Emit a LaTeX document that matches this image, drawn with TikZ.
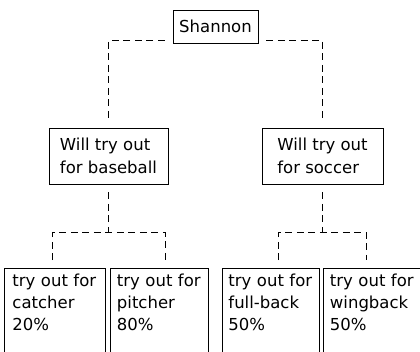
\documentclass[tikz,border=0pt]{standalone}
\usepackage{fontspec}
\setmainfont{DejaVu Sans}
\usetikzlibrary{positioning}
\tikzset{
  box/.style={draw, line width=0.9pt, inner sep=0pt, align=left,
              font=\fontsize{16.5}{23}\selectfont},
  leaf/.style={draw, line width=0.9pt, anchor=north west, align=left,
               text width=85pt, inner xsep=6pt, inner ysep=5.5pt, text depth=90pt,
               font=\fontsize{16.5}{22}\selectfont},
  link/.style={line width=0.9pt, dash pattern=on 7pt off 4.5pt,
               shorten <=8pt, shorten >=8pt},
}

\begin{document}
\begin{tikzpicture}[x=1pt, y=1pt]
  \useasboundingbox (0,0) rectangle (420,-351);
  \clip (0,0) rectangle (420,-351);

  %% top and middle level
  \node[box, minimum width=85pt, minimum height=33pt] (shannon) at (215.5,-26.5) {Shannon};
  \node[box, minimum width=119pt, minimum height=56pt] (baseball) at (108.5,-156) {Will try out\\for baseball};
  \node[box, minimum width=121pt, minimum height=56pt] (soccer) at (322.5,-156) {Will try out\\for soccer};

  %% leaves, cut off at the bottom edge
  \node[leaf, minimum width=101pt] (catcher) at (4,-268) {try out for\\catcher\\20\%};
  \node[leaf, minimum width=98pt] (pitcher) at (110,-268) {try out for\\pitcher\\80\%};
  \node[leaf, minimum width=97pt] (fullback) at (222,-268) {try out for\\full-back\\50\%};
  \node[leaf, minimum width=98pt] (wingback) at (323,-268) {try out for\\wingback\\50\%};

  \draw[link] ([yshift=3pt]shannon.south west) -| (baseball.north);
  \draw[link] ([yshift=3pt]shannon.south east) -| (soccer.north);

  \draw[link, shorten >=0pt] (baseball.south) -- ++(0,-48) coordinate (bj);
  \draw[link] ([xshift=-2.5pt]catcher.north) |- (bj) -| ([xshift=6pt]pitcher.north);

  \draw[link, shorten >=0pt] (soccer.south) -- ++(0,-48) coordinate (sj);
  \draw[link] ([xshift=7.5pt]fullback.north) |- (sj) -| ([xshift=-6pt]wingback.north);
\end{tikzpicture}
\end{document}
